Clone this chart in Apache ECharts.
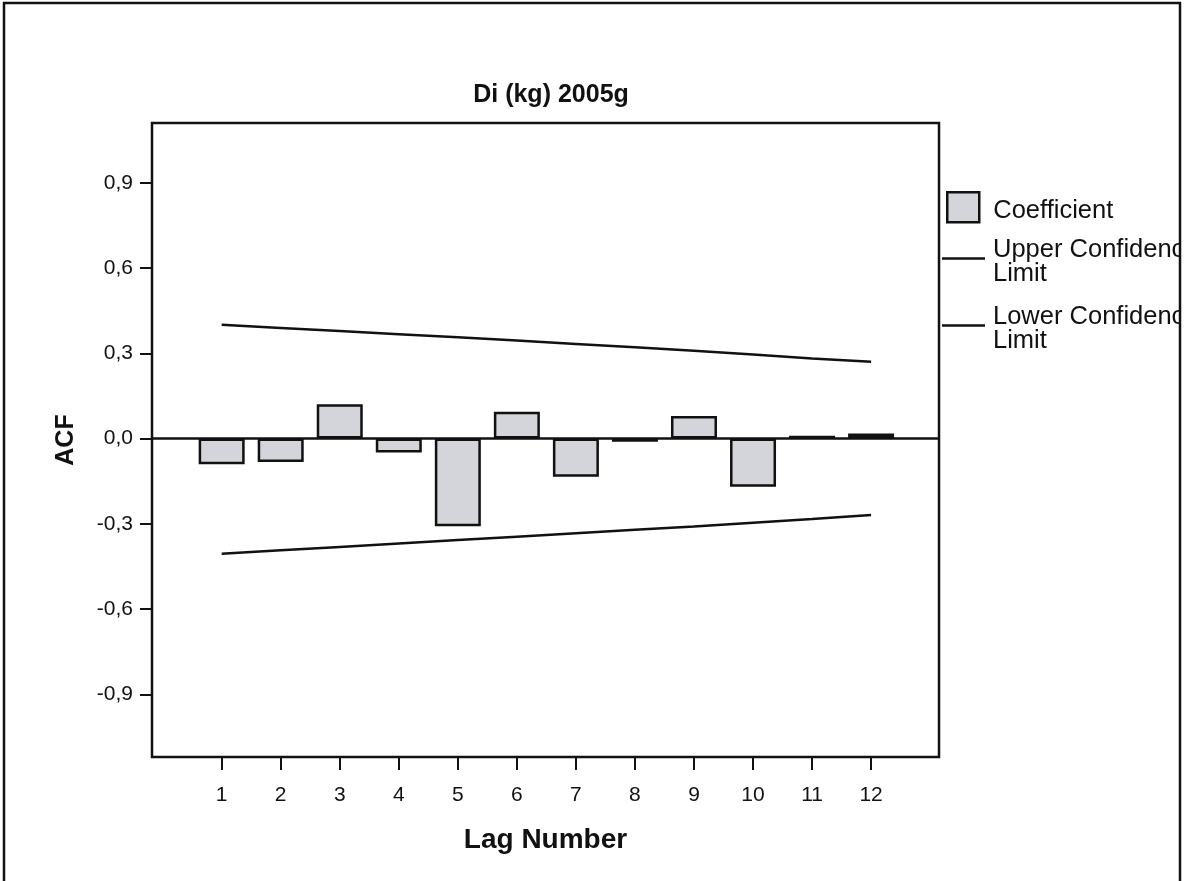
<!DOCTYPE html>
<html>
<head>
<meta charset="utf-8">
<script src="https://cdn.jsdelivr.net/npm/echarts@6/dist/echarts.min.js"></script>
<style>
html,body{margin:0;padding:0;background:#fff;}
#chart{width:1185px;height:881px;}
</style>
</head>
<body>
<div id="chart"></div>
<script>
// ---- data ----
const lags = [1, 2, 3, 4, 5, 6, 7, 8, 9, 10, 11, 12];
const coefficient = [-0.090, -0.082, 0.121, -0.049, -0.308, 0.094, -0.134, -0.011, 0.079, -0.169, 0.010, 0.018];
const upperLimit = [0.400, 0.389, 0.378, 0.367, 0.356, 0.345, 0.333, 0.321, 0.309, 0.296, 0.282, 0.270];
const lowerLimit = [-0.405, -0.393, -0.381, -0.369, -0.357, -0.345, -0.333, -0.321, -0.309, -0.296, -0.283, -0.269];
const yTicks = [-0.9, -0.6, -0.3, 0, 0.3, 0.6, 0.9];
const titleText = 'Di (kg) 2005g';

const FONT = '"Liberation Sans", Arial, sans-serif';
const pair = (arr) => lags.map((l, i) => [l, arr[i]]);

const legendRich = {
  c: {fontFamily: FONT, fontSize: 25.5, color: '#111', padding: [8, 0, 0, 9]},
  u: {fontFamily: FONT, fontSize: 25.5, lineHeight: 31, color: '#111', padding: [0, 0, 0, 3]},
  l: {fontFamily: FONT, fontSize: 25.5, lineHeight: 17, color: '#111', padding: [0, 0, 0, 3]}
};

const chart = echarts.init(document.getElementById('chart'), null, {renderer: 'canvas'});
chart.setOption({
  animation: false,
  backgroundColor: '#ffffff',
  title: {
    text: titleText,
    left: 546,
    top: 78,
    textAlign: 'center',
    textStyle: {fontFamily: FONT, fontSize: 25, fontWeight: 'bold', color: '#111'}
  },
  grid: {
    left: 152, top: 123, right: 246, bottom: 124,
    show: true, borderColor: '#111', borderWidth: 2.5, backgroundColor: 'transparent'
  },
  legend: [
    {
      data: ['Coefficient'],
      orient: 'vertical',
      left: 946, top: 191,
      padding: 0,
      icon: 'rect',
      itemWidth: 32, itemHeight: 30,
      itemStyle: {color: '#d3d5da', borderColor: '#111', borderWidth: 2.5},
      formatter: (n) => '{c|' + n + '}',
      textStyle: {fontFamily: FONT, fontSize: 25.5, color: '#111', rich: legendRich},
      selectedMode: false
    },
    {
      data: ['Upper Confidence Limit', 'Lower Confidence Limit'],
      orient: 'vertical',
      left: 942, top: 237,
      padding: 0,
      icon: 'rect',
      itemWidth: 43, itemHeight: 2.5,
      itemGap: 17,
      itemStyle: {color: '#111', borderWidth: 0},
      formatter: (n) => '{u|' + n.replace(' Limit', '') + '}\n{l|Limit}',
      textStyle: {fontFamily: FONT, fontSize: 25.5, color: '#111', rich: legendRich},
      selectedMode: false
    }
  ],
  xAxis: {
    type: 'value',
    min: -0.18, max: 13.15,
    name: 'Lag Number',
    nameLocation: 'middle',
    nameGap: 69,
    nameTextStyle: {fontFamily: FONT, fontSize: 28, fontWeight: 'bold', color: '#111'},
    axisLine: {show: false, onZero: false},
    splitLine: {show: false},
    axisTick: {show: true, customValues: lags, length: 13, lineStyle: {color: '#111', width: 2}},
    axisLabel: {customValues: lags, margin: 28, fontFamily: FONT, fontSize: 21, color: '#111'}
  },
  yAxis: {
    type: 'value',
    min: -1.12, max: 1.11,
    name: 'ACF',
    nameLocation: 'middle',
    nameRotate: 90,
    nameGap: 73,
    nameTextStyle: {fontFamily: FONT, fontSize: 25, fontWeight: 'bold', color: '#111'},
    axisLine: {show: false, onZero: false},
    splitLine: {show: false},
    axisTick: {show: true, customValues: yTicks, length: 12, lineStyle: {color: '#111', width: 2}},
    axisLabel: {
      customValues: yTicks, margin: 19, fontFamily: FONT, fontSize: 21, color: '#111',
      formatter: (v) => v.toFixed(1).replace('.', ',')
    }
  },
  series: [
    {
      name: 'Coefficient',
      type: 'bar',
      data: pair(coefficient),
      barWidth: 46,
      itemStyle: {color: '#d3d5da', borderColor: '#111', borderWidth: 2.5},
      markLine: {
        silent: true, symbol: 'none', label: {show: false},
        lineStyle: {color: '#111', type: 'solid', width: 2.5},
        data: [{yAxis: 0}]
      },
      z: 2
    },
    {
      name: 'Upper Confidence Limit',
      type: 'line',
      data: pair(upperLimit),
      symbol: 'none',
      lineStyle: {color: '#111', width: 2.5},
      itemStyle: {color: '#111'},
      z: 3
    },
    {
      name: 'Lower Confidence Limit',
      type: 'line',
      data: pair(lowerLimit),
      symbol: 'none',
      lineStyle: {color: '#111', width: 2.5},
      itemStyle: {color: '#111'},
      z: 3
    }
  ],
  graphic: [
    {type: 'rect', shape: {x: 1180, y: 0, width: 10, height: 881}, style: {fill: '#fff'}, z: 100, silent: true},
    {type: 'polyline', shape: {points: [[4, 885], [4, 3], [1180, 3], [1180, 885]]},
     style: {stroke: '#111', lineWidth: 2.5, fill: null}, z: 101, silent: true}
  ]
});
</script>
</body>
</html>
